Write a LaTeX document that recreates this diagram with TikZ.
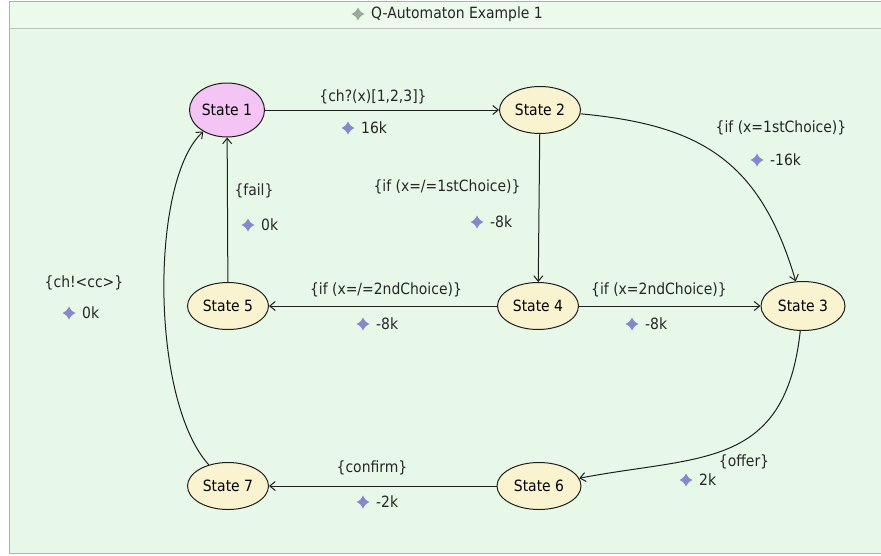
\documentclass[tikz,border=0pt]{standalone}
\usepackage{fontspec}
\setmainfont{DejaVu Sans Condensed}
\usetikzlibrary{arrows.meta,shapes.geometric}
\definecolor{bg}{RGB}{232,248,232}
\definecolor{titlebg}{RGB}{236,250,236}
\definecolor{framegray}{RGB}{170,180,170}
\definecolor{statefill}{RGB}{250,243,208}
\definecolor{startfill}{RGB}{244,196,244}
\definecolor{edgecol}{RGB}{30,30,30}
\definecolor{weightcol}{RGB}{135,135,205}
\definecolor{titlediam}{RGB}{150,170,150}
\begin{document}
\begin{tikzpicture}[x=1pt,y=-1pt,
  font=\fontsize{15.5}{18}\selectfont,
  statebox/.style={ellipse,draw=edgecol,line width=1pt,fill=statefill,minimum width=81pt,minimum height=47pt,inner sep=0pt},
  edge/.style={draw=edgecol,line width=1pt,-{Straight Barb[length=5.5pt,width=9pt]}},
  lbl/.style={inner sep=0pt,text=black!85},
  wt/.style={inner sep=0pt,text=black!85,anchor=west},
  wdiam/.pic={\fill[pic actions] (0,-6.5) .. controls (2.3,-2.3) .. (6.5,0) .. controls (2.3,2.3) .. (0,6.5) .. controls (-2.3,2.3) .. (-6.5,0) .. controls (-2.3,-2.3) .. cycle;}]
\useasboundingbox (0,0) rectangle (881,555);
% frame
\fill[bg] (9.5,1) rectangle (890,553);
\fill[titlebg] (9.5,1) rectangle (890,28);
\draw[framegray,line width=1pt] (890,1) -- (9.5,1) -- (9.5,553) -- (890,553);
\draw[framegray!80,line width=1pt] (9.5,28) -- (890,28);
\node[wt] (title) at (371,14) {Q-Automaton Example 1};
\pic[fill=titlediam] at ([xshift=-13pt]title.west) {wdiam};
% states
\node[statebox,fill=startfill,minimum width=75pt,minimum height=54pt] (s1) at (227,110) {State 1};
\node[statebox] (s2) at (540,110) {State 2};
\node[statebox,minimum width=84pt,minimum height=49pt] (s3) at (803,306) {State 3};
\node[statebox] (s4) at (538,306) {State 4};
\node[statebox] (s5) at (228,306) {State 5};
\node[statebox,minimum width=84pt] (s6) at (539,486) {State 6};
\node[statebox] (s7) at (228,486) {State 7};
% edges
\draw[edge] (s1) -- (s2);
\draw[edge] (s2) .. controls (700,125) and (760,160) .. (s3);
\draw[edge] (s2) -- (s4);
\draw[edge] (s4) -- (s5);
\draw[edge] (s4) -- (s3);
\draw[edge] (s5) -- (s1);
\draw[edge] (s3) .. controls (785,470) and (700,455) .. (s6);
\draw[edge] (s6) -- (s7);
\draw[edge] (s7) .. controls (150,400) and (150,180) .. (s1);
% labels
\node[lbl] (l12) at (373,97) {\{ch?(x)[1,2,3]\}};
\node[wt]  (w12) at (361,128) {16k};
\node[lbl] (l23) at (781,128) {\{if (x=1stChoice)\}};
\node[wt]  (w23) at (770,160) {-16k};
\node[lbl] (l24) at (447,187) {\{if (x=/=1stChoice)\}};
\node[wt]  (w24) at (490,222) {-8k};
\node[lbl] (l45) at (386,290) {\{if (x=/=2ndChoice)\}};
\node[wt]  (w45) at (376,324) {-8k};
\node[lbl] (l43) at (659,290) {\{if (x=2ndChoice)\}};
\node[wt]  (w43) at (645,324) {-8k};
\node[lbl] (l51) at (254,191) {\{fail\}};
\node[wt]  (w51) at (261,225) {0k};
\node[lbl] (l36) at (744,462) {\{offer\}};
\node[wt]  (w36) at (699,480) {2k};
\node[lbl] (l67) at (372,468) {\{confirm\}};
\node[wt]  (w67) at (376,502) {-2k};
\node[lbl] (l71) at (84,283) {\{ch!<cc>\}};
\node[wt]  (w71) at (82,313) {0k};
\foreach \w in {w12,w23,w24,w45,w43,w51,w36,w67,w71}
  \pic[fill=weightcol] at ([xshift=-13pt]\w.west) {wdiam};
\end{tikzpicture}
\end{document}
